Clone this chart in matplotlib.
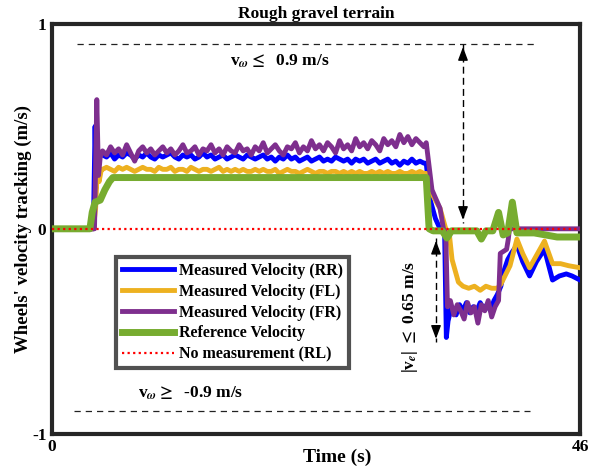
import numpy as np
import matplotlib
matplotlib.use("Agg")
import matplotlib.pyplot as plt

plt.rcParams['font.family'] = ['Liberation Serif', 'DejaVu Serif']
plt.rcParams['font.weight'] = 'bold'
plt.rcParams['mathtext.fontset'] = 'stix'

# ---------------- data ----------------
t_steady = np.linspace(4.4, 32.4, 81)

rr_steady = [0.36,0.35,0.37,0.34,0.36,0.35,0.37,0.36,0.34,0.36,
             0.35,0.37,0.35,0.34,0.36,0.35,0.36,0.37,0.35,0.34,
             0.36,0.35,0.36,0.34,0.35,0.37,0.35,0.36,0.34,0.35,
             0.36,0.34,0.35,0.36,0.35,0.34,0.36,0.35,0.34,0.35,
             0.36,0.34,0.35,0.33,0.35,0.34,0.36,0.34,0.35,0.33,
             0.34,0.35,0.33,0.34,0.35,0.33,0.34,0.33,0.35,0.34,
             0.33,0.34,0.32,0.34,0.33,0.34,0.32,0.33,0.34,0.32,
             0.33,0.34,0.32,0.33,0.31,0.33,0.32,0.34,0.32,0.33,0.32]

fr_steady = [0.38,0.36,0.40,0.37,0.39,0.36,0.41,0.37,0.33,0.38,
             0.40,0.37,0.39,0.36,0.38,0.40,0.37,0.39,0.36,0.38,
             0.41,0.37,0.38,0.40,0.36,0.39,0.38,0.41,0.37,0.39,
             0.36,0.40,0.38,0.37,0.41,0.38,0.39,0.36,0.40,0.38,
             0.42,0.37,0.39,0.41,0.38,0.36,0.40,0.39,0.42,0.37,
             0.40,0.38,0.43,0.39,0.41,0.38,0.42,0.40,0.37,0.43,
             0.39,0.41,0.38,0.44,0.40,0.42,0.39,0.43,0.41,0.38,
             0.44,0.41,0.43,0.40,0.46,0.42,0.45,0.41,0.44,0.42,0.40]

fl_steady = [0.29,0.30,0.29,0.28,0.30,0.29,0.30,0.29,0.28,0.29,
             0.30,0.29,0.29,0.28,0.30,0.29,0.29,0.30,0.28,0.29,
             0.29,0.28,0.30,0.29,0.28,0.29,0.29,0.28,0.29,0.30,
             0.28,0.29,0.28,0.29,0.28,0.29,0.28,0.28,0.29,0.28,
             0.29,0.28,0.28,0.29,0.27,0.28,0.29,0.28,0.28,0.27,
             0.28,0.29,0.28,0.27,0.28,0.28,0.27,0.28,0.28,0.27,
             0.28,0.27,0.28,0.27,0.28,0.27,0.27,0.28,0.27,0.28,
             0.27,0.28,0.27,0.27,0.28,0.27,0.27,0.28,0.27,0.28,0.27]

# start-up segments
rr_t0 = [0, 3.6, 3.75, 3.85, 4.0, 4.2]
rr_v0 = [0, 0, 0.50, 0.20, 0.33, 0.37]
fr_t0 = [0, 3.7, 3.9, 4.05, 4.2]
fr_v0 = [0, 0, 0.63, 0.26, 0.35]
fl_t0 = [0, 3.6, 3.8, 3.95, 4.1, 4.3]
fl_v0 = [0, 0, 0.10, 0.30, 0.23, 0.29]

# stop / disturbance segments
rr_t1 = [32.6, 32.9, 33.4, 33.8, 34.2, 34.35, 34.5, 34.8, 35.2, 35.5, 35.8, 36.1, 36.4,
         36.7, 37.0, 37.3, 37.6, 37.9, 38.2, 38.5, 38.8, 39.1, 39.4, 39.7, 40.0, 40.5,
         41.0, 41.6, 42.2, 42.9, 43.6, 44.2, 44.8, 45.3, 46.0]
rr_v1 = [0.32, 0.15, 0.05, 0.00, -0.02, -0.53, -0.45, -0.38, -0.42, -0.37, -0.40, -0.36, -0.41,
         -0.38, -0.40, -0.36, -0.39, -0.37, -0.40, -0.35, -0.32, -0.28, -0.20, -0.15, -0.12, -0.08,
         -0.16, -0.23, -0.16, -0.10, -0.25, -0.23, -0.22, -0.23, -0.25]

fr_t1 = [32.6, 33.1, 33.8, 34.1, 34.3, 34.45, 34.7, 35.0, 35.3, 35.6, 35.9, 36.2, 36.5,
         36.8, 37.1, 37.4, 37.7, 38.0, 38.3, 38.6, 38.9, 39.05, 39.6, 39.75, 39.85, 46.0]
fr_v1 = [0.42, 0.19, 0.10, 0.00, -0.02, -0.38, -0.35, -0.42, -0.37, -0.40, -0.44, -0.36, -0.41,
         -0.38, -0.46, -0.37, -0.40, -0.35, -0.43, -0.38, -0.35, -0.12, -0.10, -0.05, 0.0, 0.0]

fl_t1 = [32.6, 33.0, 33.8, 34.3, 34.6, 34.85, 35.4, 35.8, 36.3, 36.8, 37.3, 37.8, 38.3, 38.8,
         39.1, 39.9, 40.5, 41.0, 41.6, 42.3, 42.9, 43.6, 44.3, 45.0, 46.0]
fl_v1 = [0.27, 0.18, 0.10, 0.00, -0.02, -0.15, -0.26, -0.28, -0.29, -0.28, -0.30, -0.28, -0.29, -0.29,
         -0.27, -0.18, -0.05, -0.12, -0.19, -0.12, -0.06, -0.17, -0.17, -0.18, -0.19]

ref_t = [0, 3.3, 3.5, 3.75, 4.2, 4.6, 5.0, 5.3, 32.6, 32.85, 33.2, 34.0, 34.4, 34.8,
         37.0, 37.4, 37.8, 38.4, 38.9, 39.3, 39.7, 40.1, 40.5, 41.0, 42.0, 43.0, 44.0, 45.0, 46.0]
ref_v = [0, 0, 0.08, 0.13, 0.14, 0.19, 0.23, 0.25, 0.25, 0.0, -0.01, -0.01, -0.045, -0.01,
         -0.01, -0.05, -0.01, -0.01, 0.08, -0.03, -0.02, 0.13, -0.02, -0.02, -0.02, -0.03, -0.04, -0.04, -0.04]

rl_t = [0, 46]
rl_v = [0, 0]

v_max, v_min = 0.9, -0.9
ve_max = 0.65

rr_t = list(rr_t0) + list(t_steady) + rr_t1
rr_v = rr_v0 + rr_steady + rr_v1
fr_t = list(fr_t0) + list(t_steady) + fr_t1
fr_v = fr_v0 + fr_steady + fr_v1
fl_t = list(fl_t0) + list(t_steady) + fl_t1
fl_v = fl_v0 + fl_steady + fl_v1

# ---------------- plot ----------------
fig = plt.figure(figsize=(5.98, 4.66), dpi=100)
ax = fig.add_axes([0.087, 0.069, 0.883, 0.880])

ax.plot(rr_t, rr_v, color='#0000FF', lw=3.5, label='Measured Velocity (RR)', zorder=3)
ax.plot(fl_t, fl_v, color='#EDB120', lw=3.5, label='Measured Velocity (FL)', zorder=3)
ax.plot(fr_t, fr_v, color='#7E2F8E', lw=3.5, label='Measured Velocity (FR)', zorder=4)
ax.plot(ref_t, ref_v, color='#77AC30', lw=5.0, label='Reference Velocity', zorder=5)
ax.plot(rl_t, rl_v, color='#FF0000', lw=1.6, ls=(0, (1, 1.5)), label='No measurement (RL)', zorder=6)

# bound lines
ax.plot([2.2, 42.1], [v_max, v_max], color='#222222', lw=0.9, ls=(0, (5, 4)))
ax.plot([1.9, 41.6], [v_min + 0.01, v_min + 0.01], color='#222222', lw=0.9, ls=(0, (5, 4)))

# double arrows (dashed shaft + solid heads)
def dbl_arrow(x, y0, y1):
    ax.plot([x, x], [y0, y1], color='k', lw=1.0, ls=(0, (5, 3)), zorder=7)
    hl = 0.06 if y1 < y0 else -0.06
    ax.annotate('', xy=(x, y0), xytext=(x, y0 - hl),
                arrowprops=dict(arrowstyle='-|>,head_length=0.8,head_width=0.3', color='k', lw=1), zorder=7)
    ax.annotate('', xy=(x, y1), xytext=(x, y1 + hl),
                arrowprops=dict(arrowstyle='-|>,head_length=0.8,head_width=0.3', color='k', lw=1), zorder=7)

dbl_arrow(35.8, v_max, 0.03)
dbl_arrow(33.45, -0.045, -0.55)

ax.text(19.8, 0.815, r'v$_\omega\leq$  0.9 m/s', fontsize=12.5, ha='center', va='center')
ax.text(12.1, -0.80, r'v$_\omega\geq$  -0.9 m/s', fontsize=12.5, ha='center', va='center')
ax.text(31.2, -0.43, r'|v$_e$| $\leq$ 0.65 m/s', fontsize=12.5, ha='center', va='center', rotation=90)

ax.set_xlim(0, 46)
ax.set_ylim(-1, 1)
ax.set_xticks([0, 46])
ax.set_yticks([-1, 0, 1])
ax.set_yticklabels(['-1', '0', '1'])
ax.tick_params(length=0, labelsize=12.5, pad=4)
for lab in ax.get_xticklabels() + ax.get_yticklabels():
    lab.set_fontweight('bold')
for s in ax.spines.values():
    s.set_linewidth(3.0)
    s.set_color('#262626')

ax.set_title('Rough gravel terrain', fontsize=12.5, fontweight='bold', pad=4)
ax.set_xlabel('Time (s)', fontsize=14, fontweight='bold', labelpad=-6)
ax.xaxis.set_label_coords(0.54, -0.035)
ax.set_ylabel("Wheels' velocity tracking (m/s)", fontsize=13.5, fontweight='bold', labelpad=0)

leg = ax.legend(loc='lower left', bbox_to_anchor=(0.121, 0.161), mode=None,
                fontsize=11.5, frameon=True, fancybox=False, handlelength=3.3,
                handletextpad=0.3, labelspacing=0.3, borderpad=0.35, borderaxespad=0)
leg.get_frame().set_edgecolor('#262626')
leg.get_frame().set_linewidth(3.0)
for txt in leg.get_texts():
    txt.set_fontweight('bold')

fig.savefig('out.png', dpi=100)
